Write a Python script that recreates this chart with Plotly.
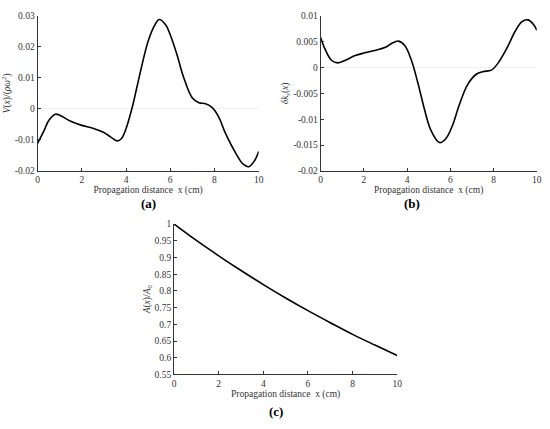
import plotly.graph_objects as go
from plotly.subplots import make_subplots

# panel (a): V(x)/(rho omega^2)
xa = [0, 0.3, 0.5, 0.8, 1.0, 1.5, 2.0, 2.5, 3.0, 3.3, 3.6, 3.8, 4.0, 4.3, 4.5, 5.0, 5.3, 5.5,
      5.8, 6.0, 6.3, 6.6, 7.0, 7.3, 7.6, 7.9, 8.2, 8.5, 9.0, 9.3, 9.55, 9.8, 10]
ya = [-0.0111, -0.0069, -0.0038, -0.0017, -0.002, -0.004, -0.0053, -0.0062, -0.0076, -0.009,
      -0.0103, -0.0095, -0.0064, 0.001, 0.0072, 0.0218, 0.027, 0.0288, 0.027, 0.0239, 0.0176,
      0.0103, 0.0035, 0.002, 0.0017, 0.0004, -0.0027, -0.0079, -0.0147, -0.0178, -0.0186,
      -0.0168, -0.0137]

# panel (b): delta k_s(x)
xb = [0, 0.2, 0.5, 0.8, 1.2, 1.6, 2.0, 2.5, 3.0, 3.3, 3.6, 3.9, 4.2, 4.5, 4.8, 5.1, 5.5, 5.8,
      6.1, 6.4, 6.8, 7.2, 7.5, 7.9, 8.2, 8.6, 9.0, 9.3, 9.6, 9.85, 10]
yb = [0.0058, 0.0036, 0.0014, 0.0009, 0.0015, 0.0023, 0.0028, 0.0033, 0.0039, 0.0047, 0.0051,
      0.0042, 0.0014, -0.003, -0.008, -0.0121, -0.0145, -0.0137, -0.0112, -0.0074, -0.0033,
      -0.0013, -0.0008, -0.0005, 0.0008, 0.0036, 0.007, 0.0088, 0.0092, 0.0083, 0.0072]

# panel (c): A(x)/A0
xc = [0, 1, 2, 3, 4, 5, 6, 7, 8, 9, 10]
yc = [1.0, 0.951, 0.905, 0.861, 0.819, 0.779, 0.741, 0.705, 0.670, 0.638, 0.607]

x_ticks = [0, 2, 4, 6, 8, 10]
ya_ticks = [0.03, 0.02, 0.01, 0, -0.01, -0.02]
ya_text = ["0.03", "0.02", "0.01", "0", "-0.01", "-0.02"]
yb_ticks = [0.01, 0.005, 0, -0.005, -0.01, -0.015, -0.02]
yb_text = ["0.01", "0.005", "0", "-0.005", "-0.01", "-0.015", "-0.02"]
yc_ticks = [1, 0.95, 0.9, 0.85, 0.8, 0.75, 0.7, 0.65, 0.6, 0.55]
yc_text = ["1", "0.95", "0.9", "0.85", "0.8", "0.75", "0.7", "0.65", "0.6", "0.55"]

FONT = "Liberation Serif, Times New Roman, serif"
W, H = 550, 429

fig = make_subplots(rows=2, cols=2, specs=[[{}, {}], [{"colspan": 2}, None]])
line = dict(color="black", width=1.6, shape="spline", smoothing=1.0)
fig.add_trace(go.Scatter(x=xa, y=ya, mode="lines", line=line, showlegend=False), row=1, col=1)
fig.add_trace(go.Scatter(x=xb, y=yb, mode="lines", line=line, showlegend=False), row=1, col=2)
fig.add_trace(go.Scatter(x=xc, y=yc, mode="lines", line=line, showlegend=False), row=2, col=1)

def px_dom(a, b, total):
    return [a / total, b / total]

def py_dom(top, bottom):
    return [1 - bottom / H, 1 - top / H]

ax_common = dict(showline=True, linecolor="#333333", linewidth=1, ticks="inside", ticklen=3,
                 tickcolor="#333333", showgrid=False, mirror=False, ticklabeloverflow="allow",
                 tickfont=dict(family=FONT, size=9.5, color="#333333"))
xtitle = dict(text="Propagation distance  x (cm)", font=dict(family=FONT, size=9.5, color="#333333"),
              standoff=0)
ytitle_font = dict(family=FONT, size=9.5, color="#333333")

fig.update_layout(
    width=W, height=H, margin=dict(l=0, r=0, t=0, b=0),
    paper_bgcolor="white", plot_bgcolor="white",
    xaxis=dict(domain=px_dom(36, 260, W), range=[0, 10], tickvals=x_ticks, zeroline=False,
               title=xtitle, **ax_common),
    yaxis=dict(domain=py_dom(11, 170), range=[-0.02, 0.03], tickvals=ya_ticks, ticktext=ya_text,
               zeroline=True, zerolinecolor="#f0f0f0", zerolinewidth=1,
               title=dict(text="<i>V</i>(<i>x</i>)/(<i>ρω</i><sup>2</sup>)",
                          font=ytitle_font, standoff=2),
               **ax_common),
    xaxis2=dict(domain=px_dom(322.7, 541.7, W), range=[0, 10], tickvals=x_ticks, zeroline=False,
                title=xtitle, **ax_common),
    yaxis2=dict(domain=py_dom(11, 170), range=[-0.02, 0.01], tickvals=yb_ticks, ticktext=yb_text,
                zeroline=True, zerolinecolor="#f0f0f0", zerolinewidth=1,
                title=dict(text="<i>δk</i><sub><i>s</i></sub>(<i>x</i>)",
                           font=ytitle_font, standoff=2),
                **ax_common),
    xaxis3=dict(domain=px_dom(174.3, 400.3, W), range=[0, 10], tickvals=x_ticks, zeroline=False,
                title=xtitle, **ax_common),
    yaxis3=dict(domain=py_dom(224.3, 378.3), range=[0.55, 1.0], tickvals=yc_ticks, ticktext=yc_text,
                zeroline=False,
                title=dict(text="<i>A</i>(<i>x</i>)/<i>A</i><sub>0</sub>",
                           font=ytitle_font, standoff=2),
                **ax_common),
)

labels = [("<b>(a)</b>", 148, 203), ("<b>(b)</b>", 415, 203), ("<b>(c)</b>", 278, 416)]
for txt, x, y in labels:
    fig.add_annotation(text=txt, x=x / W, y=1 - y / H, xref="paper", yref="paper",
                       xanchor="center", yanchor="middle", showarrow=False,
                       font=dict(family=FONT, size=13, color="black"))

# drop the default page margin so the 550x429 figure fills the window
fig.write_html("out.html", config={"displayModeBar": False},
               post_script="document.body.style.margin='0';")
